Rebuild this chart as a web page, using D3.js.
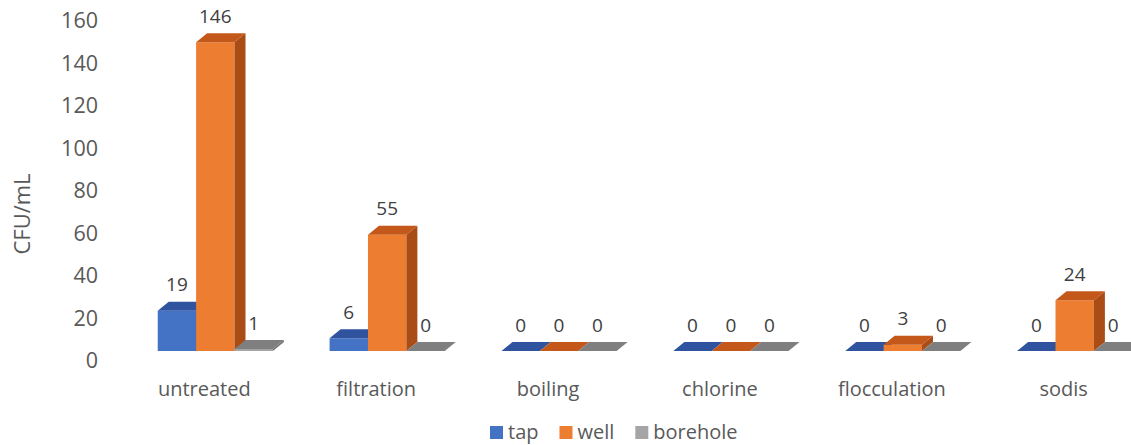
<!DOCTYPE html>
<html>
<head>
<meta charset="utf-8">
<script src="https://cdn.jsdelivr.net/npm/d3@7"></script>
<style>
  body { margin: 0; background: #fff; }
  svg { display: block; font-family: "Open Sans", sans-serif; }
</style>
</head>
<body>
<svg id="chart" width="1131" height="445"></svg>
<script>
// data
var categories = ["untreated", "filtration", "boiling", "chlorine", "flocculation", "sodis"];
var seriesNames = ["tap", "well", "borehole"];
var tap = [19, 6, 0, 0, 0, 0];
var well = [146, 55, 0, 0, 3, 24];
var borehole = [1, 0, 0, 0, 0, 0];
var yTicks = [0, 20, 40, 60, 80, 100, 120, 140, 160];

var values = { tap: tap, well: well, borehole: borehole };

// face colours: front, top, side
var colors = {
    tap: ["#4472c4", "#2f539e", "#2a4a8c"],
    well: ["#ed7d31", "#c4581a", "#a94c15"],
    borehole: ["#a5a5a5", "#7f7f7f", "#707070"]
};

var svg = d3.select("#chart");
var width = 1131, height = 445;

// depth offset of the 3d boxes
var DX = 11, DY = -9;

var x = d3.scaleBand()
    .domain(categories)
    .range([101, 1189])
    .paddingInner(0.33)
    .paddingOuter(0.33);

var xs = d3.scaleBand()
    .domain(seriesNames)
    .range([0, x.bandwidth()]);

// bar heights on the front plane
var y = d3.scaleLinear().domain([0, 160]).range([351, 12.6]);
// the value axis labels sit a little lower
var yAxisScale = d3.scaleLinear().domain([0, 160]).range([361, 21]);

var axis = svg.append("g")
    .attr("transform", "translate(98,0)")
    .call(d3.axisLeft(yAxisScale).tickValues(yTicks).tickSize(0).tickPadding(0));
axis.select(".domain").remove();
axis.selectAll("text")
    .attr("font-size", "21.5px")
    .attr("fill", "#595959")
    .attr("font-family", "Open Sans, sans-serif");

svg.append("text")
    .attr("transform", "translate(22,214) rotate(-90)")
    .attr("text-anchor", "middle")
    .attr("dy", "0.35em")
    .attr("font-size", "22px")
    .attr("fill", "#595959")
    .text("CFU/mL");

// build box list, left to right so later boxes cover earlier sides
var boxes = [];
categories.forEach(function(c, i) {
    seriesNames.forEach(function(s) {
        boxes.push({ cat: c, series: s, value: values[s][i] });
    });
});

var bars = svg.append("g");

boxes.forEach(function(d) {
    var x0 = x(d.cat) + xs(d.series);
    var x1 = x0 + xs.bandwidth();
    var y0 = y(0);
    var y1 = y(d.value);
    var col = colors[d.series];
    var g = bars.append("g");

    // front
    g.append("path")
        .attr("d", "M" + x0 + "," + y0 + "L" + x1 + "," + y0 + "L" + x1 + "," + y1 + "L" + x0 + "," + y1 + "Z")
        .attr("fill", col[0]);
    // top
    g.append("path")
        .attr("d", "M" + x0 + "," + y1 + "L" + x1 + "," + y1 + "L" + (x1 + DX) + "," + (y1 + DY) + "L" + (x0 + DX) + "," + (y1 + DY) + "Z")
        .attr("fill", col[1]);
    // side
    g.append("path")
        .attr("d", "M" + x1 + "," + y0 + "L" + (x1 + DX) + "," + (y0 + DY) + "L" + (x1 + DX) + "," + (y1 + DY) + "L" + x1 + "," + y1 + "Z")
        .attr("fill", col[2]);
});

// data labels
svg.append("g").selectAll("text")
    .data(boxes)
    .enter()
    .append("text")
    .attr("x", function(d) { return x(d.cat) + xs(d.series) + xs.bandwidth() / 2; })
    .attr("y", function(d) { return y(d.value) + DY - 17; })
    .attr("dy", "0.35em")
    .attr("text-anchor", "middle")
    .attr("font-size", "19px")
    .attr("fill", "#404040")
    .text(function(d) { return d.value; });

// category labels
svg.append("g").selectAll("text")
    .data(categories)
    .enter()
    .append("text")
    .attr("x", function(d) { return x(d) + x.bandwidth() / 2 - 11; })
    .attr("y", 389)
    .attr("dy", "0.35em")
    .attr("text-anchor", "middle")
    .attr("font-size", "20px")
    .attr("fill", "#595959")
    .text(function(d) { return d; });

// legend
var legend = svg.append("g");
var lx = 490;
seriesNames.forEach(function(s) {
    legend.append("rect")
        .attr("x", lx)
        .attr("y", 426)
        .attr("width", 13)
        .attr("height", 13)
        .attr("fill", colors[s][0]);
    var t = legend.append("text")
        .attr("x", lx + 18)
        .attr("y", 432)
        .attr("dy", "0.35em")
        .attr("font-size", "20px")
        .attr("fill", "#595959")
        .text(s);
    lx += 18 + t.node().getComputedTextLength() + 21;
});
</script>
</body>
</html>
